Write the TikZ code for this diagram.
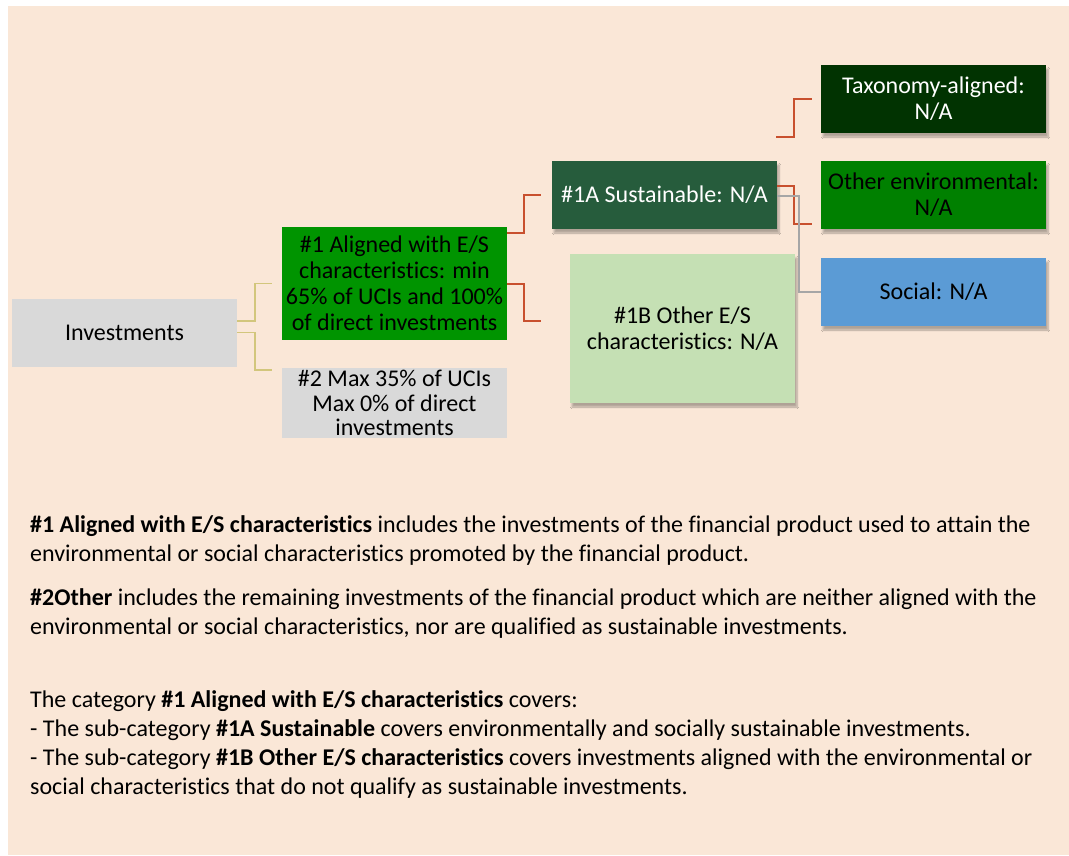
\documentclass[tikz,border=0pt]{standalone}
\usepackage{fontspec}
\setmainfont[Ligatures={NoCommon}]{Carlito}
\usepackage{xcolor}
\usepackage{tikz}
\usetikzlibrary{shadows.blur}

\definecolor{panelbg}{HTML}{FAE7D7}
\definecolor{boxgray}{HTML}{D9D9D9}
\definecolor{esgreen}{HTML}{009400}
\definecolor{envgreen}{HTML}{008000}
\definecolor{susgreen}{HTML}{265C3C}
\definecolor{taxgreen}{HTML}{013301}
\definecolor{palegreen}{HTML}{C5E0B4}
\definecolor{socblue}{HTML}{5B9BD5}
\definecolor{linered}{HTML}{C8502E}
\definecolor{linegold}{HTML}{D2C67C}
\definecolor{linegray}{HTML}{A6A6A6}

\begin{document}
\begin{tikzpicture}[x=1pt, y=-1pt,
  box/.style={minimum width=225pt, minimum height=68pt, inner sep=2pt, align=center,
              font=\fontsize{24}{26}\selectfont, fill=#1},
  lifted/.style={blur shadow={shadow xshift=2pt, shadow yshift=-4pt,
                 shadow opacity=30, shadow blur steps=6}},
  conn/.style={line width=2pt, draw=#1},
  note/.style={anchor=north west, inner sep=0pt, align=left,
               font=\fontsize{24}{29}\selectfont}
]
  \useasboundingbox (0,0) rectangle (1069,855);
  \fill[panelbg] (8,6) rectangle (1069,855);

  % Boxes
  \node[box=boxgray] (invest) at (124.5,332.5) {Investments};
  \node[box=esgreen, minimum height=113pt] (aligned) at (394.5,283.5)
    {\#1 Aligned with E/S\\characteristics: min\\65\% of UCIs and 100\%\\of direct investments};
  \node[box=boxgray, font=\fontsize{24}{24.5}\selectfont] (other) at (394.5,403)
    {\#2 Max 35\% of UCIs\\Max 0\% of direct\\investments};
  \node[box=susgreen, lifted, text=white] (sustain) at (664.5,195) {\#1A Sustainable: N/A};
  \node[box=palegreen, lifted, minimum height=149pt] (otheres) at (682.5,328.5)
    {\#1B Other E/S\\characteristics: N/A};
  \node[box=taxgreen, lifted, text=white] (taxo) at (933.5,99) {Taxonomy-aligned:\\N/A};
  \node[box=envgreen, lifted] (otherenv) at (933.5,195) {Other environmental:\\N/A};
  \node[box=socblue, lifted] (social) at (933.5,292) {Social: N/A};

  % Connectors
  \draw[conn=linegold, line width=1.5pt] ([yshift=11.5pt]invest.east) -- ++(18,0) |- ([xshift=-10pt]aligned.west);
  \draw[conn=linegold, line width=1.5pt] (invest.east) -- ++(18,0) |- ([xshift=-10pt,yshift=33pt]other.west);
  \draw[conn=linered] ([yshift=50.5pt]aligned.east) -- ++(17,0) |- ([xshift=-11pt]sustain.west);
  \draw[conn=linered] (aligned.east) -- ++(17,0) |- ([xshift=-29pt,yshift=7.5pt]otheres.west);
  \coordinate (taxofoot) at (776,137);
  \draw[conn=linered] (taxofoot) -- ++(18,0) |- ([xshift=-9pt]taxo.west);
  \draw[conn=linered] ([yshift=9pt]sustain.east) -- ++(17,0) |- ([xshift=-9pt,yshift=-29pt]otherenv.west);
  \draw[conn=linegray, line width=1.5pt] ([yshift=-1pt]sustain.east) -- ++(22,0) |- (social.west);

  % Notes
  \node[note] (note1) at (30,515)
    {\textbf{\#1 Aligned with E/S characteristics} includes the investments of the financial product used to attain the\\
     environmental or social characteristics promoted by the financial product.};
  \node[note] (note2) at (30,588)
    {\textbf{\#2Other} includes the remaining investments of the financial product which are neither aligned with the\\
     environmental or social characteristics, nor are qualified as sustainable investments.};
  \node[note] (note3) at (30,690)
    {The category \textbf{\#1 Aligned with E/S characteristics} covers:\\
     - The sub-category \textbf{\#1A Sustainable} covers environmentally and socially sustainable investments.\\
     - The sub-category \textbf{\#1B Other E/S characteristics} covers investments aligned with the environmental or\\
     social characteristics that do not qualify as sustainable investments.};
\end{tikzpicture}
\end{document}
